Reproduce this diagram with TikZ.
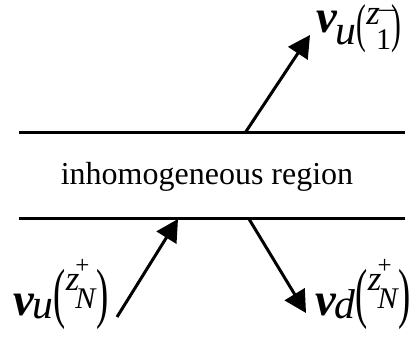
\documentclass[tikz,border=0pt]{standalone}
\usepackage{graphicx}
\usepackage{fontspec}
\setmainfont{Liberation Serif}
\usetikzlibrary{arrows.meta}

\newcommand{\sz}[2]{{\fontsize{#1}{#1}\selectfont #2}}
\newcommand{\paren}[2]{\scalebox{0.55}[1]{\sz{#1}{#2}}}
% #1 v raise, #2 subscript, #3 z raise, #4 index, #5 index raise, #6 sign, #7 sign raise, #8 paren size
\newcommand{\vel}[8]{%
  \raisebox{#1}{\sz{14}{\textbf{\textit{v}}}}\kern-0.6pt
  \raisebox{-0.9pt}{\sz{12.5}{\textit{#2}}}%
  \paren{#8}{(}%
  \raisebox{#3}{\sz{10.5}{\textit{z}}}\kern-1.2pt
  \rlap{\raisebox{#7}{\sz{7.5}{#6}}}\raisebox{#5}{\sz{9}{#4}}%
  \paren{#8}{)}}

\begin{document}
\begin{tikzpicture}[x=0.3pt, y=-0.3pt,
  layer/.style={line width=0.9pt},
  arr/.style={-{Triangle[length=6.6pt, width=6.9pt]}, line width=0.9pt},
  lbl/.style={inner sep=0pt, anchor=base west}
]
  \useasboundingbox (0,0) rectangle (409,337);

  % boundaries of the region
  \coordinate (topL) at (19,133);
  \coordinate (topR) at (405,133);
  \coordinate (botL) at (19,219);
  \coordinate (botR) at (405,219);
  \draw[layer] (topL) -- (topR);
  \draw[layer] (botL) -- (botR);
  \node[anchor=base, inner sep=0pt, font=\fontsize{9.6}{11}\selectfont] (region) at (207,185) {inhomogeneous region};

  % transmitted wave above
  \coordinate (outTop) at (245,133);
  \node[lbl] (vup) at (316,42) {\vel{2.7pt}{u}{5.1pt}{1}{-2.4pt}{\sz{8}{$-$}}{7.4pt}{16}};
  \coordinate (tipTop) at (310,35);
  \draw[arr] (outTop) -- (tipTop);

  % incident and reflected waves below
  \node[lbl] (vin) at (13,315) {\vel{0pt}{u}{7.5pt}{\textit{N}}{2.1pt}{+}{12.5pt}{20}};
  \coordinate (inStart) at (117,317);
  \coordinate (inTip) at (178,219);
  \draw[arr] (inStart) -- (inTip);

  \coordinate (refStart) at (249,219);
  \coordinate (refTip) at (306,313);
  \node[lbl] (vref) at (315,315) {\vel{0pt}{d}{7.5pt}{\textit{N}}{2.1pt}{+}{12.5pt}{20}};
  \draw[arr] (refStart) -- (refTip);
\end{tikzpicture}
\end{document}
